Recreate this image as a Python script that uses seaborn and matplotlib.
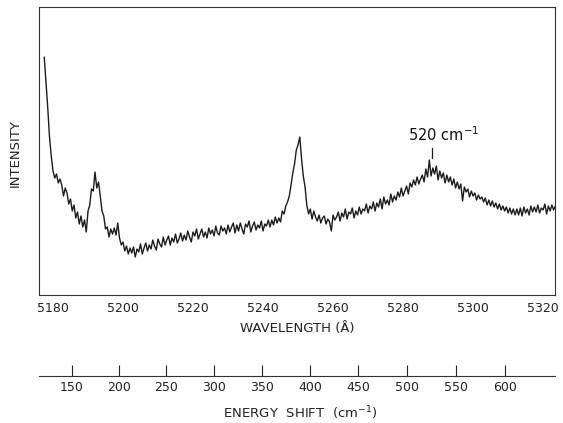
import numpy as np
import seaborn as sns
import matplotlib as mpl
mpl.use('Agg')
import matplotlib.pyplot as plt

# Raman spectrum (0.5 A steps, arbitrary intensity)
wl_start = 5177.5
wl_step = 0.5
intensity = [
    238, 213, 187, 158, 139, 124, 117, 121, 112, 116,   # 5177.5 - 5182.0
    110, 99, 107, 102, 91, 96, 84, 90, 77, 83,
    71, 79, 68, 75, 63, 84, 90, 106, 104, 123,
    107, 113, 99, 84, 79, 66, 68, 58, 66, 61,
    67, 60, 72, 57, 50, 53, 44, 49, 41, 47,
    42, 48, 38, 46, 43, 51, 41, 47, 52, 44,             # 5202.5 - 5207.0
    50, 46, 55, 49, 45, 56, 51, 48, 58, 50,
    55, 59, 50, 57, 53, 61, 52, 56, 62, 54,
    60, 55, 64, 58, 53, 63, 59, 66, 56, 61,
    66, 58, 63, 57, 67, 61, 65, 59, 69, 62,
    60, 69, 64, 67, 61, 70, 63, 68, 72, 62,             # 5227.5 - 5232.0
    70, 64, 72, 66, 61, 71, 68, 74, 63, 69,
    73, 65, 70, 67, 74, 64, 71, 69, 75, 68,
    75, 70, 78, 72, 77, 73, 84, 81, 89, 93,
    99, 110, 122, 131, 145, 150, 158, 136, 119, 108,    # 5247.5 - 5252.0
    90, 81, 86, 76, 84, 78, 74, 80, 72, 77,
    79, 71, 76, 73, 64, 80, 75, 78, 83, 74,
    82, 78, 86, 76, 83, 81, 87, 77, 84, 80,
    88, 81, 86, 84, 91, 82, 89, 86, 93, 84,
    92, 88, 96, 86, 98, 91, 95, 90, 101, 93,            # 5272.5 - 5277.0
    99, 95, 103, 98, 107, 99, 104, 109, 101, 112,
    108, 115, 110, 118, 111, 116, 120, 113, 126, 118,
    135, 119, 127, 121, 129, 115, 124, 117, 122, 112,
    120, 113, 118, 110, 116, 107, 113, 106, 111, 94,
    108, 103, 106, 98, 104, 99, 102, 95, 100, 96,       # 5297.5 - 5302.0
    98, 93, 97, 90, 95, 89, 94, 88, 92, 86,
    91, 85, 89, 84, 88, 82, 87, 81, 86, 80,
    86, 80, 87, 79, 88, 82, 86, 80, 89, 83,
    88, 83, 90, 82, 87, 85, 91, 81, 89, 84,
    90, 85, 89, 86,                                     # 5322.5 - 5324.0
]
wavelength = wl_start + wl_step * np.arange(len(intensity))

wl_ticks = list(range(5180, 5330, 10))
wl_labels = [str(t) if t % 20 == 0 else '' for t in wl_ticks]
shift_ticks = [150, 200, 250, 300, 350, 400, 450, 500, 550, 600]
laser_wl = 5145.3  # excitation line (A)


def to_shift(w):
    w = np.asarray(w, dtype=float)
    return 1e8 / laser_wl - 1e8 / w


def to_wl(s):
    s = np.asarray(s, dtype=float)
    return 1e8 / (1e8 / laser_wl - s)


sns.set_theme(style='white')
plt.rcParams['font.family'] = ['DejaVu Sans']

fig = plt.figure(figsize=(5.63, 4.23), dpi=100)
ax = fig.add_axes([39 / 563, 1 - 295 / 423, 516 / 563, 288 / 423])

sns.lineplot(x=wavelength, y=intensity, color='#1c1c1c', linewidth=1.0, ax=ax)

ax.set_xlim(5176, 5323.4)
ax.set_ylim(0, 288)
ax.set_yticks([])
ax.set_xticks(wl_ticks)
ax.set_xticklabels(wl_labels, fontsize=9)
ax.tick_params(axis='x', direction='in', length=6, width=0.8, pad=5, colors='#222222')
for s in ax.spines.values():
    s.set_linewidth(0.8)
    s.set_color('#333333')
ax.set_xlabel('')
ax.set_ylabel('')

# energy shift scale underneath
sec = ax.secondary_xaxis(-0.281, functions=(to_shift, to_wl))
sec.set_xticks(shift_ticks)
sec.set_xticklabels([str(t) for t in shift_ticks], fontsize=9)
sec.tick_params(direction='in', length=8, width=0.8, pad=4, colors='#222222')
sec.spines['bottom'].set_linewidth(0.8)
sec.spines['bottom'].set_color('#333333')

# annotation of the broad band
ax.plot([5288.3, 5288.3], [137, 147], color='#1c1c1c', lw=0.9)
ax.text(5291.5, 151, '520 cm$^{-1}$', fontsize=10.5, ha='center', va='bottom', color='#111111')

fig.text(297 / 563, 1 - 328 / 423, 'WAVELENGTH (Å)', ha='center', va='center', fontsize=9.5, color='#222222')
fig.text(300 / 563, 1 - 413 / 423, 'ENERGY  SHIFT  (cm$^{-1}$)', ha='center', va='center', fontsize=9.5, color='#222222')
fig.text(15 / 563, 1 - 153 / 423, 'INTENSITY', ha='center', va='center', rotation=90, fontsize=9.5, color='#222222')

plt.savefig('out.png', dpi=100)
